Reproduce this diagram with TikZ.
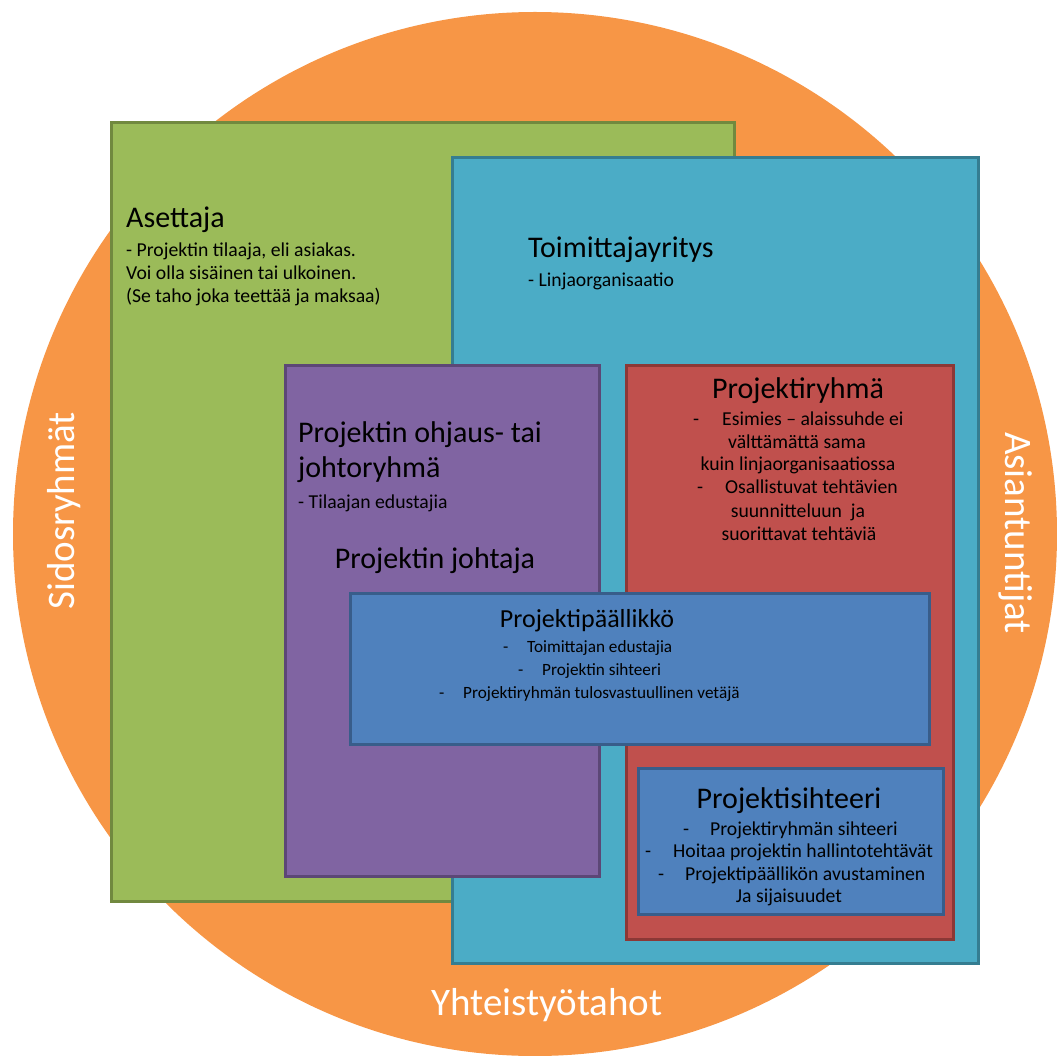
\documentclass[tikz,border=0pt]{standalone}
\usepackage{fontspec}
\setmainfont{Carlito}
\definecolor{orangeC}{HTML}{F79646}
\definecolor{greenF}{HTML}{9BBB59}\definecolor{greenD}{HTML}{71893F}
\definecolor{tealF}{HTML}{4BACC6}\definecolor{tealD}{HTML}{357D91}
\definecolor{purpF}{HTML}{8064A2}\definecolor{purpD}{HTML}{5C4776}
\definecolor{redF}{HTML}{C0504D}\definecolor{redD}{HTML}{8C3836}
\definecolor{blueF}{HTML}{4F81BD}\definecolor{blueD}{HTML}{385D8A}
\begin{document}
\begin{tikzpicture}[x=1pt,y=-1pt,
  box/.style={rectangle, anchor=north west, inner sep=0, line width=3pt},
  ttl/.style={inner sep=0, text=black, font=\fontsize{30}{36}\selectfont},
  sml/.style={inner sep=0, text=black, font=\fontsize{19.7}{23}\selectfont},
  ttlb/.style={inner sep=0, text=black, font=\fontsize{26}{31}\selectfont},
  smlb/.style={inner sep=0, text=black, font=\fontsize{17.2}{21}\selectfont},
  ring/.style={inner sep=0, text=white, font=\fontsize{39}{46}\selectfont, anchor=base}]
\useasboundingbox (0,0) rectangle (1057,1056);
% outer circle of stakeholders
\fill[orangeC] (535,534) circle[radius=522];
\node[ring, rotate=90] (sido) at (74,511) {Sidosryhmät};
\node[ring, rotate=-90] (asia) at (1005,533) {Asiantuntijat};
\node[ring] (yht) at (547,1015) {Yhteistyötahot};
% organisations
\node[box, fill=greenF, draw=greenD, minimum width=623, minimum height=779] (ase) at (110,121) {};
\node[box, fill=tealF, draw=tealD, minimum width=526, minimum height=806] (toi) at (451,156) {};
\node[box, fill=purpF, draw=purpD, minimum width=314, minimum height=511] (ohj) at (284,364) {};
\node[box, fill=redF, draw=redD, minimum width=327, minimum height=574] (ryh) at (625,364) {};
\node[box, fill=blueF, draw=blueD, minimum width=579, minimum height=151] (pp) at (349,592) {};
\node[box, fill=blueF, draw=blueD, minimum width=305, minimum height=146] (ps) at (637,767) {};
% Asettaja
\node[ttl, anchor=base west] (aseT) at (126,228) {Asettaja};
\node[sml, anchor=base west] (ase1) at (126,257) {- Projektin tilaaja, eli asiakas.};
\node[sml, anchor=base west] (ase2) at (126,280) {Voi olla sisäinen tai ulkoinen.};
\node[sml, anchor=base west] (ase3) at (126,303) {(Se taho joka teettää ja maksaa)};
% Toimittajayritys
\node[ttl, anchor=base west] (toiT) at (528,258) {Toimittajayritys};
\node[sml, anchor=base west] (toi1) at (528,287) {- Linjaorganisaatio};
% ohjausryhmä
\node[ttl, anchor=base west] (ohjT1) at (298,442) {Projektin ohjaus- tai};
\node[ttl, anchor=base west] (ohjT2) at (298,477) {johtoryhmä};
\node[sml, anchor=base west] (ohj1) at (298,508) {- Tilaajan edustajia};
\node[ttl, anchor=base] (joh) at (435,568) {Projektin johtaja};
% Projektiryhmä
\node[ttl, anchor=base] (ryhT) at (798,398) {Projektiryhmä};
\node[sml, anchor=base west] (ryh1) at (693,425) {\makebox[29pt][l]{-}Esimies – alaissuhde ei};
\node[sml, anchor=base] (ryh2) at (797,448) {välttämättä sama};
\node[sml, anchor=base] (ryh3) at (798,470) {kuin linjaorganisaatiossa};
\node[sml, anchor=base west] (ryh4) at (697,493) {\makebox[28pt][l]{-}Osallistuvat tehtävien};
\node[sml, anchor=base] (ryh5) at (798,517) {suunnitteluun\ \ ja};
\node[sml, anchor=base] (ryh6) at (799,540) {suorittavat tehtäviä};
% Projektipäällikkö
\node[ttlb, anchor=base] (ppT) at (587,627) {Projektipäällikkö};
\node[smlb, anchor=base west] (pp1) at (503,652) {\makebox[24pt][l]{-}Toimittajan edustajia};
\node[smlb, anchor=base west] (pp2) at (518,675) {\makebox[24pt][l]{-}Projektin sihteeri};
\node[smlb, anchor=base west] (pp3) at (439,698) {\makebox[24pt][l]{-}Projektiryhmän tulosvastuullinen vetäjä};
% Projektisihteeri
\node[ttl, anchor=base] (psT) at (789,808) {Projektisihteeri};
\node[sml, anchor=base west] (ps1) at (683,835) {\makebox[27pt][l]{-}Projektiryhmän sihteeri};
\node[sml, anchor=base west] (ps2) at (645,857) {\makebox[28pt][l]{-}Hoitaa projektin hallintotehtävät};
\node[sml, anchor=base west] (ps3) at (658,880) {\makebox[27pt][l]{-}Projektipäällikön avustaminen};
\node[sml, anchor=base] (ps4) at (789,902) {Ja sijaisuudet};
\end{tikzpicture}
\end{document}
